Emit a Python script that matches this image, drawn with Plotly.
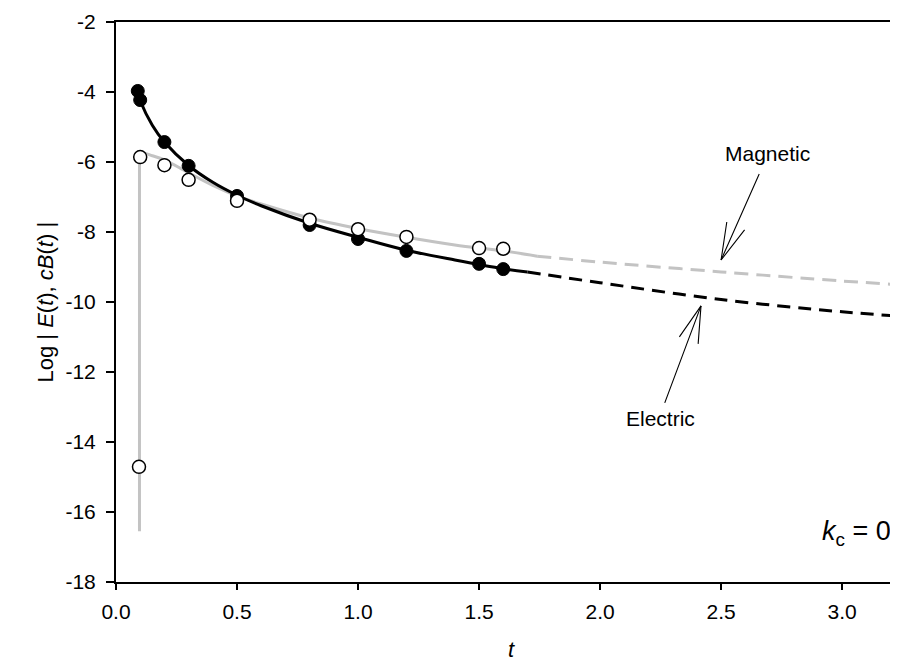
import plotly.graph_objects as go

# ---------------- data ----------------
# Electric field: fitted curve (solid) and extrapolation (dashed)
elec_t = [0.087, 0.10, 0.15, 0.20, 0.30, 0.40, 0.50, 0.60, 0.80, 1.00, 1.20, 1.40, 1.60, 1.70]
elec_y = [-3.97, -4.25, -4.95, -5.43, -6.10, -6.58, -6.95, -7.25, -7.75, -8.15, -8.52, -8.80, -9.05, -9.14]
elec_ext_t = [1.70, 2.00, 2.50, 3.00, 3.264]
elec_ext_y = [-9.14, -9.45, -9.93, -10.28, -10.42]
elec_pts_t = [0.09, 0.10, 0.20, 0.30, 0.50, 0.80, 1.00, 1.20, 1.50, 1.60]
elec_pts_y = [-3.97, -4.23, -5.43, -6.11, -6.97, -7.80, -8.20, -8.54, -8.91, -9.06]

# Magnetic field: spike, fitted curve (solid) and extrapolation (dashed)
mag_spike_t = [0.097, 0.097]
mag_spike_y = [-16.55, -5.80]
mag_t = [0.097, 0.11, 0.15, 0.20, 0.30, 0.40, 0.50, 0.60, 0.80, 1.00, 1.20, 1.40, 1.60, 1.74]
mag_y = [-5.80, -5.74, -5.82, -5.94, -6.31, -6.67, -6.97, -7.20, -7.60, -7.90, -8.15, -8.37, -8.54, -8.69]
mag_ext_t = [1.74, 2.00, 2.50, 3.00, 3.264]
mag_ext_y = [-8.69, -8.86, -9.14, -9.40, -9.52]
mag_pts_t = [0.095, 0.10, 0.20, 0.30, 0.50, 0.80, 1.00, 1.20, 1.50, 1.60]
mag_pts_y = [-14.71, -5.86, -6.09, -6.51, -7.11, -7.65, -7.92, -8.14, -8.46, -8.48]

x_ticks = [0.0, 0.5, 1.0, 1.5, 2.0, 2.5, 3.0]
x_ticklabels = ["0.0", "0.5", "1.0", "1.5", "2.0", "2.5", "3.0"]
y_ticks = [-18, -16, -14, -12, -10, -8, -6, -4, -2]
y_ticklabels = ["-18", "-16", "-14", "-12", "-10", "-8", "-6", "-4", "-2"]

GRAY = "#c3c3c3"
FONT = "Liberation Sans, Arial, Helvetica, sans-serif"

fig = go.Figure()

# magnetic lines
fig.add_trace(go.Scatter(x=mag_spike_t, y=mag_spike_y, mode="lines",
                         line=dict(color=GRAY, width=3), hoverinfo="skip"))
fig.add_trace(go.Scatter(x=mag_t, y=mag_y, mode="lines",
                         line=dict(color=GRAY, width=3, shape="spline"), hoverinfo="skip"))
fig.add_trace(go.Scatter(x=mag_ext_t, y=mag_ext_y, mode="lines",
                         line=dict(color=GRAY, width=3, dash="14px,8px", shape="spline"),
                         hoverinfo="skip"))
# electric lines
fig.add_trace(go.Scatter(x=elec_t, y=elec_y, mode="lines",
                         line=dict(color="black", width=3, shape="spline"), hoverinfo="skip"))
fig.add_trace(go.Scatter(x=elec_ext_t, y=elec_ext_y, mode="lines",
                         line=dict(color="black", width=3, dash="13px,8px", shape="spline"),
                         hoverinfo="skip"))
# markers
fig.add_trace(go.Scatter(x=elec_pts_t, y=elec_pts_y, mode="markers",
                         marker=dict(color="black", size=13,
                                     line=dict(color="black", width=1))))
fig.add_trace(go.Scatter(x=mag_pts_t, y=mag_pts_y, mode="markers",
                         marker=dict(color="white", size=13,
                                     line=dict(color="black", width=1.5))))

# ---------------- arrows ----------------
arrows = [
    # (tip_x, tip_y, [(ax, ay) pixel offsets of shaft tail and two head arms])
    (2.5, -8.80, [(39, -88), (6, -40), (25, -32)]),
    (2.417, -10.11, [(-37, 99), (-23, 33), (-3, 40)]),
]
annotations = []
for tx, ty, offs in arrows:
    for ax, ay in offs:
        annotations.append(dict(x=tx, y=ty, xref="x", yref="y", ax=ax, ay=ay,
                                axref="pixel", ayref="pixel", text=" ",
                                showarrow=True, arrowhead=0, arrowwidth=1.1,
                                arrowcolor="black", standoff=0, startstandoff=0,
                                font=dict(size=1)))

annotations += [
    dict(x=2.69, y=-5.77, xref="x", yref="y", text="Magnetic", showarrow=False,
         font=dict(family=FONT, size=21, color="black")),
    dict(x=2.25, y=-13.34, xref="x", yref="y", text="Electric", showarrow=False,
         font=dict(family=FONT, size=21, color="black")),
    dict(x=3.21, y=-16.6, xref="x", yref="y", xanchor="right",
         text="<i>k</i><sub>c</sub> = 0", showarrow=False,
         font=dict(family=FONT, size=27, color="black")),
    dict(x=0.5, y=0, xref="paper", yref="paper", yanchor="middle", yshift=-67,
         text="<i>t</i>", showarrow=False,
         font=dict(family=FONT, size=22, color="black")),
    dict(x=0, y=0.5, xref="paper", yref="paper", xshift=-86, textangle=-90,
         text="Log | <i>E</i>(<i>t</i>), <i>cB</i>(<i>t</i>) |", showarrow=False,
         font=dict(family=FONT, size=22, color="black")),
]

fig.update_layout(
    width=898, height=664,
    margin=dict(l=108, r=0, t=14, b=90),
    paper_bgcolor="white", plot_bgcolor="white",
    showlegend=False,
    font=dict(family=FONT, size=21, color="black"),
    annotations=annotations,
    xaxis=dict(range=[0, 3.264], tickvals=x_ticks, ticktext=x_ticklabels,
               showgrid=False, zeroline=False, showline=True, linecolor="black",
               linewidth=2, mirror=True, ticks="outside", ticklen=6, tickwidth=1.5,
               tickcolor="black", ticklabelstandoff=4),
    yaxis=dict(range=[-18, -2], tickvals=y_ticks, ticktext=y_ticklabels,
               showgrid=False, zeroline=False, showline=True, linecolor="black",
               linewidth=2, mirror=False, ticks="outside", ticklen=8, tickwidth=1.5,
               tickcolor="black", ticklabelstandoff=6),
)

fig.write_html("out.html")
